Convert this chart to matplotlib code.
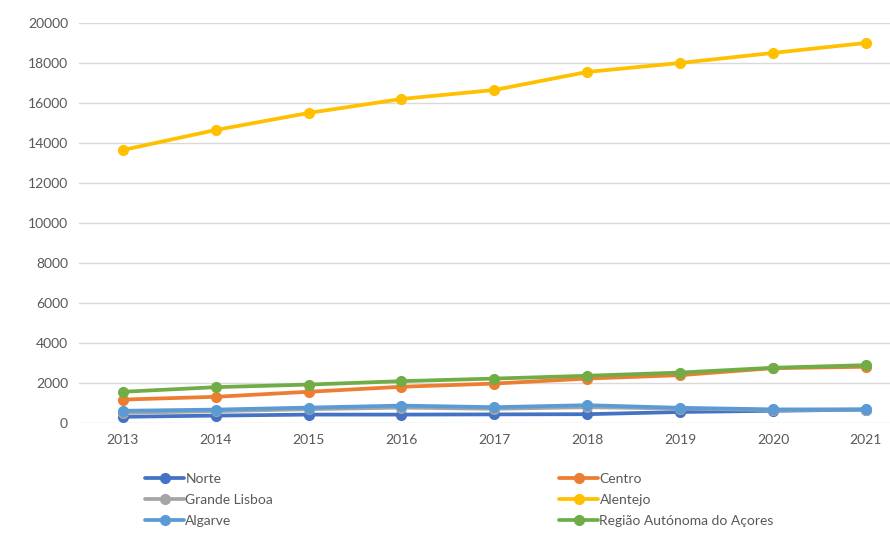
import matplotlib.pyplot as plt

years = [2013, 2014, 2015, 2016, 2017, 2018, 2019, 2020, 2021]

norte = [320, 380, 430, 430, 440, 450, 560, 620, 680]
centro = [1180, 1320, 1570, 1820, 1980, 2230, 2400, 2750, 2820]
grande_lisboa = [520, 600, 700, 780, 720, 800, 730, 660, 680]
alentejo = [13650, 14650, 15500, 16200, 16650, 17550, 18000, 18500, 19000]
algarve = [620, 680, 780, 880, 800, 900, 770, 690, 690]
acores = [1570, 1800, 1930, 2100, 2230, 2370, 2530, 2770, 2900]

series = [
    ('Norte', norte, '#4472C4'),
    ('Centro', centro, '#ED7D31'),
    ('Grande Lisboa', grande_lisboa, '#A5A5A5'),
    ('Alentejo', alentejo, '#FFC000'),
    ('Algarve', algarve, '#5B9BD5'),
    ('Região Autónoma do Açores', acores, '#70AD47'),
]

plt.rcParams['font.family'] = ['Lato', 'DejaVu Sans']

fig = plt.figure(figsize=(8.9, 5.33), dpi=100)
ax = fig.add_axes([0.089, 0.206, 0.911, 0.751])

lines = {}
for name, vals, color in series:
    lines[name], = ax.plot(years, vals, color=color, lw=2.7, marker='o',
                           markersize=7, label=name, solid_capstyle='round')

ax.set_ylim(0, 20000)
ax.set_yticks(range(0, 20001, 2000))
ax.set_xlim(2012.53, 2021.26)
ax.set_xticks(years)
ax.grid(axis='y', color='#D9D9D9', lw=1)
ax.set_axisbelow(True)
for s in ax.spines.values():
    s.set_visible(False)
ax.tick_params(length=0, labelsize=10, labelcolor='#595959', pad=8)

# legend laid out in two columns under the plot
order = ['Norte', 'Grande Lisboa', 'Algarve',
         'Centro', 'Alentejo', 'Região Autónoma do Açores']
leg = fig.legend([lines[n] for n in order], order, ncol=2,
                 loc='upper left', bbox_to_anchor=(0.163, 0.112),
                 frameon=False, fontsize=10, handlelength=2.8,
                 handletextpad=0.1, columnspacing=20.6, labelspacing=0.62,
                 borderaxespad=0, borderpad=0)
for t in leg.get_texts():
    t.set_color('#595959')

fig.savefig('out.png', dpi=100)
